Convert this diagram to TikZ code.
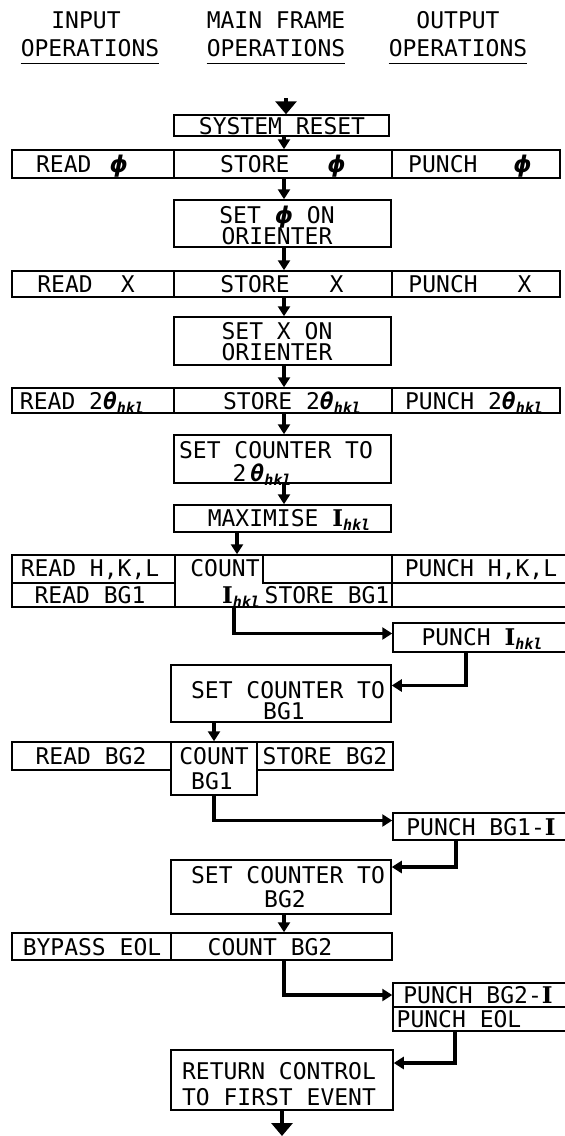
\documentclass[tikz,border=0pt]{standalone}
\usepackage{fontspec}
\setmainfont{DejaVu Sans Mono}
\newfontfamily\dvs{DejaVu Sans}
\newfontfamily\dvserif{DejaVu Serif}
\usetikzlibrary{arrows.meta}
\newcommand\hkl{\raisebox{-4pt}{\fontsize{15}{15}\selectfont\bfseries\itshape hkl}}
\newcommand\thk{{\bfseries\itshape θ}\hkl}
\newcommand\Ib{{\dvserif\bfseries I}}
\newcommand\Ihkl{\Ib\hkl}
\newcommand\phis{{\dvs\bfseries\itshape ϕ}}
\newcommand\cellbox[5]{\node[cell, minimum width={(#4)-(#2)}, minimum height={(#5)-(#3)}] (#1) at ({((#2)+(#4))/2},{((#3)+(#5))/2}) {};}
\begin{document}
\begin{tikzpicture}[x=1pt,y=-1pt, font=\fontsize{23}{23}\selectfont,
  cell/.style={draw, line width=1.5pt, inner sep=0pt},
  txt/.style={inner sep=0pt, text height=17pt, text depth=0pt},
  arr/.style={line width=3.5pt, -{Triangle[width=12pt,length=10pt]}},
  bigarr/.style={line width=4pt, -{Triangle[width=21pt,length=13pt]}},
  uline/.style={line width=1.4pt}]
\useasboundingbox (0,0) rectangle (565,1136);

% headers
\node[txt] (h1a) at (86,20) {INPUT};
\node[txt] (h1b) at (90,48) {OPERATIONS};
\node[txt] (h2a) at (276,20) {MAIN FRAME};
\node[txt] (h2b) at (276,48) {OPERATIONS};
\node[txt] (h3a) at (458,20) {OUTPUT};
\node[txt] (h3b) at (458,48) {OPERATIONS};
\foreach \h in {h1b,h2b,h3b}{\draw[uline] ([yshift=-7pt]\h.south west) -- ([yshift=-7pt]\h.south east);}

% boxes
\cellbox{sr}{174}{115}{389}{136}
\cellbox{r1a}{12}{150}{174}{178}
\cellbox{r1b}{174}{150}{392}{178}
\cellbox{r1c}{392}{150}{560}{178}
\cellbox{s1}{174}{200}{391}{247}
\cellbox{r2a}{12}{271}{174}{297}
\cellbox{r2b}{174}{271}{392}{297}
\cellbox{r2c}{392}{271}{560}{297}
\cellbox{s2}{174}{317}{391}{365}
\cellbox{r3a}{12}{388}{174}{413}
\cellbox{r3b}{174}{388}{392}{413}
\cellbox{r3c}{392}{388}{560}{413}
\cellbox{s3}{174}{435}{391}{483}
\cellbox{mx}{174}{505}{391}{532}
\cellbox{r4a}{12}{555}{175}{583}
\cellbox{r4b}{12}{583}{175}{607}
\cellbox{cnt}{175}{555}{392}{607}
\cellbox{emp}{263}{555}{392}{583}
\cellbox{r4c}{392}{555}{575}{583}
\cellbox{r4d}{392}{583}{575}{607}
\cellbox{pi}{393}{623}{575}{652}
\cellbox{sc1}{171}{665}{391}{722}
\cellbox{r5a}{12}{742}{171}{770}
\cellbox{r5b}{171}{742}{257}{795}
\cellbox{r5c}{257}{742}{393}{770}
\cellbox{pb1}{393}{813}{575}{840}
\cellbox{sc2}{171}{860}{391}{914}
\cellbox{r6a}{12}{933}{171}{960}
\cellbox{r6b}{171}{933}{392}{960}
\cellbox{pb2}{393}{983}{575}{1007}
\cellbox{pe}{393}{1007}{575}{1031}
\cellbox{rc}{171}{1050}{393}{1110}

% texts
\node[txt] (tsr) at (282,125.5) {SYSTEM RESET};
\node[txt] (t1a) at (82,164) {READ\hspace{18pt}\phis};
\node[txt] (t1b) at (283,164) {STORE\hspace{38pt}\phis};
\node[txt] (t1c) at (470,164) {PUNCH\hspace{36pt}\phis};
\node[txt] (ts1a) at (277,215) {SET \phis\ ON};
\node[txt] (ts1b) at (277,236) {ORIENTER};
\node[txt] (t2a) at (86,284) {READ\hspace{28pt}X};
\node[txt] (t2b) at (282,284) {STORE\hspace{40pt}X};
\node[txt] (t2c) at (470,284) {PUNCH\hspace{40pt}X};
\node[txt] (ts2a) at (277,331) {SET X ON};
\node[txt] (ts2b) at (277,352) {ORIENTER};
\node[txt] (t3a) at (82,401) {READ 2\thk};
\node[txt] (t3b) at (292,401) {STORE 2\thk};
\node[txt] (t3c) at (474,401) {PUNCH 2\thk};
\node[txt] (ts3a) at (276,450) {SET COUNTER TO};
\node[txt] (ts3b) at (262,473) {2\hspace{4pt}\thk};
\node[txt] (tmx) at (289,518) {MAXIMISE \Ihkl};
\node[txt] (t4a) at (90,568) {READ H,K,L};
\node[txt] (t4b) at (90,595) {READ BG1};
\node[txt] (t4c) at (225,568) {COUNT};
\node[txt] (t4d) at (241,595) {\Ihkl};
\node[txt] (t4e) at (327,595) {STORE BG1};
\node[txt] (t4f) at (481,568) {PUNCH H,K,L};
\node[txt] (tpi) at (482,637) {PUNCH \Ihkl};
\node[txt] (tsc1a) at (288,690) {SET COUNTER TO};
\node[txt] (tsc1b) at (284,711) {BG1};
\node[txt] (t5a) at (91,756) {READ BG2};
\node[txt] (t5b) at (214,756) {COUNT};
\node[txt] (t5c) at (325,756) {STORE BG2};
\node[txt] (t5d) at (212,781) {BG1};
\node[txt] (tpb1) at (481,827) {PUNCH BG1-\Ib};
\node[txt] (tsc2a) at (288,875) {SET COUNTER TO};
\node[txt] (tsc2b) at (285,899) {BG2};
\node[txt] (t6a) at (92,947) {BYPASS EOL};
\node[txt] (t6b) at (270,947) {COUNT BG2};
\node[txt] (tpb2) at (478,995) {PUNCH BG2-\Ib};
\node[txt] (tpe) at (459,1019) {PUNCH EOL};
\node[txt] (trc1) at (279,1071) {RETURN CONTROL};
\node[txt] (trc2) at (279,1097) {TO FIRST EVENT};

% connectors
\coordinate (start) at (286,98);
\coordinate (mc) at (284,0);
\coordinate (cc) at (237,0);
\coordinate (c2) at (234,0);
\coordinate (rx1) at (466,0);
\coordinate (rx2) at (456,0);
\coordinate (rx3) at (455,0);
\coordinate (fin) at (282,1136);
\draw[bigarr] (start) -- (start |- sr.north);
\draw[arr] (sr.south -| mc) -- (r1b.north -| mc);
\draw[arr] (r1b.south -| mc) -- (s1.north -| mc);
\draw[arr] (s1.south -| mc) -- (r2b.north -| mc);
\draw[arr] (r2b.south -| mc) -- (s2.north -| mc);
\draw[arr] (s2.south -| mc) -- (r3b.north -| mc);
\draw[arr] (r3b.south -| mc) -- (s3.north -| mc);
\draw[arr] (s3.south -| mc) -- (mx.north -| mc);
\draw[arr] (mx.south -| cc) -- (cnt.north -| cc);
\draw[arr] (cnt.south -| c2) |- ([yshift=4pt]pi.west);
\draw[arr] (pi.south -| rx1) |- ([yshift=8pt]sc1.east);
\draw[arr] (sc1.south -| r5b.north) -- (r5b.north);
\draw[arr] (r5b.south) |- ([yshift=6pt]pb1.west);
\draw[arr] (pb1.south -| rx2) |- ([yshift=20pt]sc2.east);
\draw[arr] (sc2.south -| mc) -- (r6b.north -| mc);
\draw[arr] (r6b.south -| mc) |- (pb2.west);
\draw[arr] (pe.south -| rx3) |- ([yshift=17pt]rc.east);
\draw[bigarr] (rc.south -| fin) -- (fin);
\end{tikzpicture}
\end{document}
